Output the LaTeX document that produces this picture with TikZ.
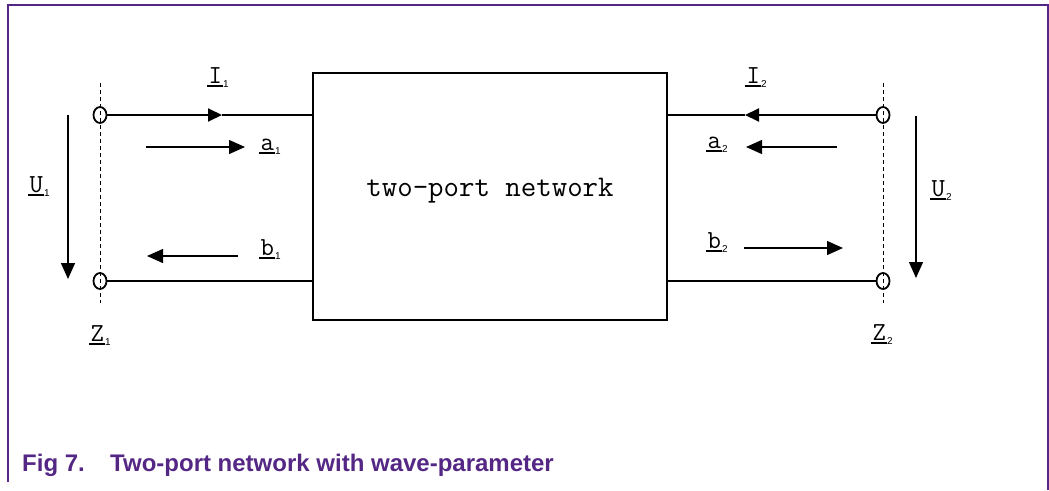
\documentclass[tikz,border=0pt]{standalone}
\usepackage{fontspec}
\usetikzlibrary{arrows.meta,shapes.geometric}
\newfontfamily\capfont{Liberation Sans}
\newfontfamily\subsans{Liberation Sans}
\definecolor{nxppurple}{RGB}{84,39,133}
\newcommand{\lblfont}{\ttfamily\fontsize{26}{28}\selectfont}
\newcommand{\ulbl}[2]{\rlap{\rule[-3.6pt]{16pt}{1.6pt}}\makebox[16pt]{\lblfont #1}\raisebox{-4.5pt}{\subsans\fontsize{10}{12}\selectfont #2}}
\tikzset{
  wire/.style={line width=2pt},
  sig/.style={line width=1.3pt, -{Triangle[length=16pt,width=14pt]}},
  itip/.style={line width=2pt, -{Triangle[length=14pt,width=13pt]}},
  term/.style={draw, ellipse, line width=1.8pt, minimum width=13pt, minimum height=16pt, inner sep=0pt},
  refline/.style={line width=0.9pt, dash pattern=on 4pt off 3pt},
  lbl/.style={anchor=base west, inner sep=0pt},
}
\begin{document}
\begin{tikzpicture}[x=1pt,y=-1pt]
\useasboundingbox (0,0) rectangle (1049,490);
% frame
\draw[nxppurple, line width=2pt] (8,482) -- (8,5) -- (1048,5) -- (1048,490);
% box
\node[draw, line width=2.8pt, minimum width=354pt, minimum height=247pt, inner sep=0pt] (box) at (490,196.5) {};
\node[anchor=base, inner sep=0pt, font=\ttfamily\fontsize{30}{34}\selectfont] (boxtext) at (490,196) {two-port network};
% reference planes
\coordinate (d1t) at (100,83);
\coordinate (d1b) at (100,303);
\coordinate (d2t) at (883,83);
\coordinate (d2b) at (883,303);
\draw[refline] (d1t) -- (d1b);
\draw[refline] (d2t) -- (d2b);
% terminals
\node[term] (t1) at (100,115) {};
\node[term] (t2) at (100,281) {};
\node[term] (t3) at (883,115) {};
\node[term] (t4) at (883,281) {};
% wires
\coordinate (i1tip) at (222,115);
\coordinate (i2tip) at (745,115);
\draw[itip] (t1) -- (i1tip);
\draw[wire] (i1tip) -- (box.west |- t1);
\draw[wire] (t2) -- (box.west |- t2);
\draw[itip] (t3) -- (i2tip);
\draw[wire] (i2tip) -- (box.east |- t3);
\draw[wire] (t4) -- (box.east |- t4);
% wave arrows
\coordinate (a1s) at (146,147); \coordinate (a1e) at (245,147);
\coordinate (b1s) at (238,256); \coordinate (b1e) at (147,256);
\coordinate (a2s) at (837,147); \coordinate (a2e) at (746,147);
\coordinate (b2s) at (744,248); \coordinate (b2e) at (843,248);
\coordinate (u1s) at (68,115);  \coordinate (u1e) at (68,279);
\coordinate (u2s) at (916,116); \coordinate (u2e) at (916,278);
\draw[sig] (a1s) -- (a1e);
\draw[sig] (b1s) -- (b1e);
\draw[sig] (a2s) -- (a2e);
\draw[sig] (b2s) -- (b2e);
\draw[sig] (u1s) -- (u1e);
\draw[sig] (u2s) -- (u2e);
% labels
\node[lbl] (li1) at (207,83) {\ulbl{I}{1}};
\node[lbl] (la1) at (259,150) {\ulbl{a}{1}};
\node[lbl] (lu1) at (28,192) {\ulbl{U}{1}};
\node[lbl] (lb1) at (259,255) {\ulbl{b}{1}};
\node[lbl] (lz1) at (89,341) {\ulbl{Z}{1}};
\node[lbl] (li2) at (745,83) {\ulbl{I}{2}};
\node[lbl] (la2) at (706,148) {\ulbl{a}{2}};
\node[lbl] (lu2) at (930,196) {\ulbl{U}{2}};
\node[lbl] (lb2) at (706,248) {\ulbl{b}{2}};
\node[lbl] (lz2) at (871,340) {\ulbl{Z}{2}};
% caption
\node[lbl, text=nxppurple, font=\capfont\bfseries\fontsize{24}{26}\selectfont] (cap) at (22,471) {\makebox[88pt][l]{Fig 7.}Two-port network with wave-parameter};
\end{tikzpicture}
\end{document}
